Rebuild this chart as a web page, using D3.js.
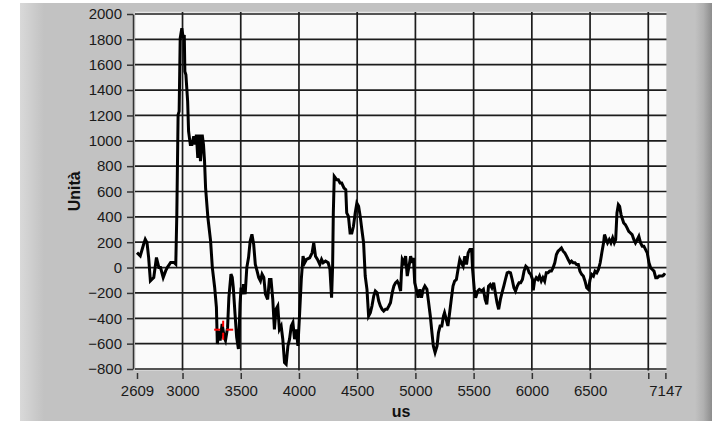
<!DOCTYPE html>
<html>
<head>
<meta charset="utf-8">
<script src="https://cdn.jsdelivr.net/npm/d3@7/dist/d3.min.js"></script>
<style>
  html, body { margin: 0; padding: 0; background: #ffffff; }
  svg { display: block; }
</style>
</head>
<body>
<svg id="chart" width="718" height="421"></svg>
<script>
// ---- data ----
const timeUs = [
  2609,2637,2666,2680,2695,2709,2724,2738,2753,2776,2797,2811,2834,2855,2869,2898,2927,2942,2951,2962,
  2971,2980,2994,3006,3015,3020,3029,3044,3052,3067,3081,3096,3108,3119,3131,3145,3154,3169,3180,3189,
  3198,3218,3241,3256,3276,3291,3299,3311,3323,3340,3358,3369,3387,3398,3416,3427,3436,3451,3465,3480,
  3494,3503,3515,3523,3538,3552,3567,3581,3596,3611,3625,3640,3654,3669,3683,3698,3712,3731,3746,3760,
  3775,3789,3803,3818,3832,3847,3861,3876,3890,3905,3919,3934,3948,3962,3977,3991,4006,4020,4035,4049,
  4064,4092,4113,4127,4142,4159,4179,4194,4208,4228,4251,4266,4280,4289,4295,4303,4324,4338,4353,4367,
  4387,4402,4410,4425,4439,4454,4468,4483,4497,4512,4526,4540,4555,4569,4584,4598,4613,4627,4642,4656,
  4671,4685,4699,4714,4728,4743,4757,4772,4786,4801,4815,4829,4844,4858,4873,4880,4887,4901,4916,4930,
  4945,4959,4974,4983,4994,5012,5023,5038,5052,5067,5081,5099,5110,5128,5142,5154,5169,5186,5198,5212,
  5227,5241,5250,5265,5279,5294,5308,5323,5337,5352,5366,5381,5395,5410,5424,5439,5453,5468,5483,5491,
  5506,5517,5535,5549,5570,5584,5599,5613,5628,5642,5657,5672,5686,5701,5715,5730,5744,5759,5773,5788,
  5802,5817,5831,5846,5860,5875,5890,5904,5919,5933,5948,5962,5977,5991,6006,6012,6023,6038,6052,6066,
  6081,6095,6110,6124,6139,6153,6168,6182,6197,6211,6225,6240,6254,6269,6283,6298,6312,6327,6341,6355,
  6370,6384,6399,6413,6428,6442,6457,6471,6486,6500,6514,6529,6543,6558,6572,6587,6601,6616,6624,6639,
  6650,6665,6679,6694,6708,6720,6731,6743,6754,6766,6775,6789,6803,6818,6832,6847,6861,6876,6890,6905,
  6919,6934,6948,6962,6977,6991,7006,7020,7035,7049,7064,7078,7093,7107,7122,7136,7147
];
const units = [
  118,92,184,223,197,79,-105,-92,-78,79,0,0,-78,-26,0,40,40,26,420,1206,
  1232,1809,1887,1809,1835,1547,1520,1311,1075,970,970,1035,970,1049,865,1049,839,1049,970,839,
  629,393,210,0,-157,-314,-603,-498,-576,-445,-550,-576,-472,-236,-52,-78,-157,-367,-550,-642,
  -288,-157,-210,-131,-210,0,79,210,262,184,26,-26,-78,-105,-52,-78,-210,-251,-94,-94,
  -251,-487,-329,-303,-487,-461,-565,-749,-762,-618,-565,-461,-434,-565,-487,-618,-356,-94,90,38,
  64,77,116,195,90,64,24,64,38,51,38,-15,-238,11,431,719,693,693,667,667,
  627,614,431,404,273,273,326,431,509,483,404,300,195,-67,-172,-382,-356,-303,-225,-185,
  -198,-264,-303,-329,-343,-329,-329,-303,-277,-198,-146,-120,-107,-133,-185,-41,64,38,90,-67,
  11,90,38,77,-120,-185,-238,-172,-238,-172,-146,-172,-251,-382,-513,-618,-670,-618,-513,-461,
  -461,-382,-356,-408,-461,-356,-251,-146,-107,-94,-15,64,38,11,90,24,116,142,142,-15,
  -172,-238,-185,-172,-185,-172,-251,-290,-146,-133,-159,-120,-198,-277,-329,-251,-198,-146,-94,-41,
  -36,-41,-94,-159,-185,-146,-120,-120,-94,-28,11,-2,-41,-54,-94,-180,-107,-80,-94,-67,
  -107,-80,-107,-41,-41,-28,-28,-2,38,103,129,142,155,129,116,90,64,38,51,38,
  38,24,24,-28,-54,-67,-107,-159,-172,-94,-54,-67,-28,-41,-15,38,116,195,260,221,
  195,221,195,234,195,221,431,496,483,418,391,352,339,313,286,273,260,221,195,221,
  247,195,169,169,142,116,38,-2,-15,-28,-80,-80,-67,-67,-67,-54,-60
];
const xTicks = [2609,3000,3500,4000,4500,5000,5500,6000,6500,7000,7147];
const xTickLabels = ["2609","3000","3500","4000","4500","5000","5500","6000","6500","","7147"];
const xGrid = [3000,3500,4000,4500,5000,5500,6000,6500,7000];
const yTicks = [-800,-600,-400,-200,0,200,400,600,800,1000,1200,1400,1600,1800,2000];
const cursorPoint = [3349, -490];
const xTitle = "us";
const yTitle = "Unità";

// ---- drawing ----
const svg = d3.select("#chart");
const W = 718, H = 421;
const x = d3.scaleLinear().domain([2609, 7147]).range([137, 665.4]);
const y = d3.scaleLinear().domain([-800, 2000]).range([369, 14]);
const plot = {left: 135, top: 12, right: 666.5, bottom: 370.5};

const defs = svg.append("defs");
const gl = defs.append("linearGradient").attr("id", "leftEdge").attr("x1", 0).attr("x2", 1);
gl.append("stop").attr("offset", 0).attr("stop-color", "#d9d9d9");
gl.append("stop").attr("offset", 1).attr("stop-color", "#c2c2c2");
const gr = defs.append("linearGradient").attr("id", "rightEdge").attr("x1", 0).attr("x2", 1);
gr.append("stop").attr("offset", 0).attr("stop-color", "#c2c2c2");
gr.append("stop").attr("offset", 0.5).attr("stop-color", "#b0b0b0");
gr.append("stop").attr("offset", 1).attr("stop-color", "#8c8c8c");

svg.append("rect").attr("width", W).attr("height", H).attr("fill", "#ffffff");
svg.append("rect").attr("x", 20).attr("y", 3).attr("width", 692).attr("height", H - 3).attr("fill", "#c2c2c2");
svg.append("rect").attr("x", 20).attr("y", 3).attr("width", 24).attr("height", H - 3).attr("fill", "url(#leftEdge)");
svg.append("rect").attr("x", 695).attr("y", 3).attr("width", 17).attr("height", H - 3).attr("fill", "url(#rightEdge)");

// plot background
svg.append("rect")
  .attr("x", plot.left).attr("y", plot.top)
  .attr("width", plot.right - plot.left).attr("height", plot.bottom - plot.top)
  .attr("fill", "#fafafa").attr("stroke", "#d4d4d4").attr("stroke-width", 1);

// grid
const grid = svg.append("g").attr("stroke", "#1c1c1c").attr("stroke-width", 1.7);
grid.selectAll("line.h").data(yTicks).join("line")
  .attr("x1", plot.left).attr("x2", plot.right)
  .attr("y1", d => y(d)).attr("y2", d => y(d));
grid.selectAll("line.v").data(xGrid).join("line")
  .attr("x1", d => x(d)).attr("x2", d => x(d))
  .attr("y1", plot.top).attr("y2", plot.bottom);

// data line
const line = d3.line().x((d, i) => x(timeUs[i])).y(d => y(d));
svg.append("path").datum(units)
  .attr("d", line)
  .attr("fill", "none").attr("stroke", "#000").attr("stroke-width", 3)
  .attr("stroke-linejoin", "miter");

// cursor
const cx = x(cursorPoint[0]), cy = y(cursorPoint[1]);
const cur = svg.append("g").attr("stroke", "#ff0000").attr("stroke-width", 2);
[[-9, -3, 0, 0], [3, 10, 0, 0], [0, 0, -9, -3], [0, 0, 3, 10]].forEach(s => {
  cur.append("line").attr("x1", cx + s[0]).attr("x2", cx + s[1]).attr("y1", cy + s[2]).attr("y2", cy + s[3]);
});

// axes
const fontFam = "'Liberation Sans', Arial, sans-serif";
const yAxis = svg.append("g").attr("transform", "translate(133,0)")
  .call(d3.axisLeft(y).tickValues(yTicks).tickSize(6).tickSizeOuter(0).tickPadding(5)
    .tickFormat(d3.format("d")));
const xAxis = svg.append("g").attr("transform", "translate(0,373)")
  .call(d3.axisBottom(x).tickValues(xTicks).tickSize(6).tickPadding(6)
    .tickFormat((d, i) => xTickLabels[i]));
xAxis.select(".domain").remove();
[yAxis, xAxis].forEach(g => {
  g.selectAll("line").attr("stroke", "#333").attr("stroke-width", 1.5);
  g.selectAll("path.domain").attr("stroke", "#333").attr("stroke-width", 1.5);
  g.selectAll("text").attr("fill", "#1a1a1a").style("font-family", fontFam).style("font-size", "15px");
});

// titles
svg.append("text").text(yTitle)
  .attr("transform", `translate(80,${(plot.top + plot.bottom) / 2}) rotate(-90)`)
  .attr("text-anchor", "middle")
  .style("font-family", fontFam).style("font-size", "16px").style("font-weight", "bold").attr("fill", "#111");
svg.append("text").text(xTitle)
  .attr("x", 401).attr("y", 417)
  .attr("text-anchor", "middle")
  .style("font-family", fontFam).style("font-size", "16px").style("font-weight", "bold").attr("fill", "#111");
</script>
</body>
</html>
